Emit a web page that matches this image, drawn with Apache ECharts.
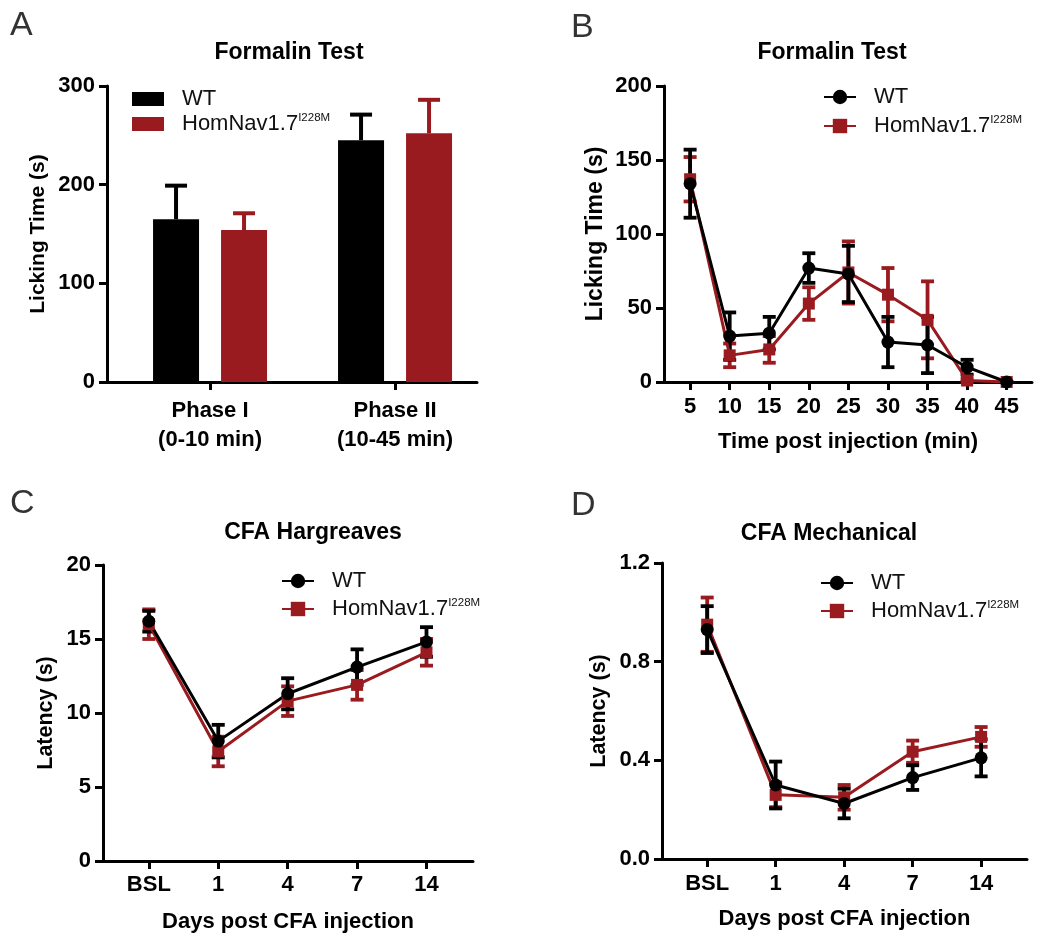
<!DOCTYPE html>
<html><head><meta charset="utf-8">
<script src="https://cdn.jsdelivr.net/npm/echarts@6/dist/echarts.min.js"></script>
<style>html,body{margin:0;padding:0;background:#fff}#c{width:1050px;height:946px}</style>
</head><body><div id="c"></div><script>
const FONT = '"Liberation Sans", Arial, Helvetica, sans-serif';
const RED = '#9A1B1F';
const BLACK = '#000000';

// ---- shared labels ----
const groupNames = ['WT', 'HomNav1.7'];
const groupSup = 'I228M';

// ---- Panel A: Formalin Test (bars, mean + SEM) ----
const phaseLabels = ['Phase I\n(0-10 min)', 'Phase II\n(10-45 min)'];
const phaseWT = [165, 245];
const phaseWTErr = [34, 26];
const phaseHom = [154, 252];
const phaseHomErr = [17, 34];

// ---- Panel B: Formalin time course ----
const minutes = [5, 10, 15, 20, 25, 30, 35, 40, 45];
const minWT = [134, 31, 33, 77, 73, 27, 25, 10, 0];
const minWTErr = [23, 16, 11, 10, 19, 17, 19, 5, 0];
const minHom = [137, 18, 22, 53, 74, 59, 42, 1, 0];
const minHomErr = [15, 8, 9, 11, 21, 18, 26, 1, 0];

// ---- Panel C: CFA Hargreaves ----
const days = ['BSL', '1', '4', '7', '14'];
const hargWT = [16.2, 8.1, 11.3, 13.1, 14.8];
const hargWTErr = [0.7, 1.1, 1.05, 1.2, 1.0];
const hargHom = [16.0, 7.4, 10.8, 11.9, 14.1];
const hargHomErr = [1.0, 1.0, 1.0, 1.0, 0.9];

// ---- Panel D: CFA Mechanical ----
const mechWT = [0.93, 0.30, 0.225, 0.33, 0.41];
const mechWTErr = [0.095, 0.095, 0.06, 0.05, 0.075];
const mechHom = [0.95, 0.26, 0.25, 0.435, 0.495];
const mechHomErr = [0.11, 0.05, 0.05, 0.045, 0.04];

// ---------------------------------------------------------
const BAR_W = 46, BAR_GAP = 22;
const barShift = (BAR_W + BAR_GAP) / 2;

function pts(xs, ys) { return ys.map((v, i) => [xs[i], v]); }
function errData(xs, ys, es) { return ys.map((v, i) => [xs[i], v - es[i], v + es[i]]); }
function upErrData(xs, ys, es) { return ys.map((v, i) => [xs[i], v, v + es[i]]); }
const idx = days.map((d, i) => i);
const phaseIdx = phaseLabels.map((d, i) => i);

function errRender(color, capW, lw, shift, lowerCap) {
  return function (params, api) {
    const x = api.value(0);
    const p1 = api.coord([x, api.value(1)]);
    const p2 = api.coord([x, api.value(2)]);
    const cx = p1[0] + shift;
    const st = { stroke: color, lineWidth: lw, fill: null };
    const ch = [
      { type: 'line', shape: { x1: cx, y1: p1[1], x2: cx, y2: p2[1] }, style: st },
      { type: 'line', shape: { x1: cx - capW / 2, y1: p2[1], x2: cx + capW / 2, y2: p2[1] }, style: st }
    ];
    if (lowerCap) ch.push({ type: 'line', shape: { x1: cx - capW / 2, y1: p1[1], x2: cx + capW / 2, y2: p1[1] }, style: st });
    return { type: 'group', children: ch };
  };
}

const axisLineStyle = { show: true, onZero: false, lineStyle: { color: '#000', width: 3 } };
const tickStyle = { length: 8, lineStyle: { color: '#000', width: 3 } };
const labelStyle = { fontFamily: FONT, fontSize: 22, fontWeight: 'bold', color: '#000' };
const nameStyle = { fontFamily: FONT, fontSize: 22, fontWeight: 'bold', color: '#000' };

function yAx(gi, min, max, interval, name, nameGap, fmt, nameSize) {
  return {
    gridIndex: gi, type: 'value', min: min, max: max, interval: interval,
    name: name, nameLocation: 'middle', nameGap: nameGap,
    nameTextStyle: Object.assign({}, nameStyle, { fontSize: nameSize || 22 }),
    axisLine: axisLineStyle, axisTick: Object.assign({ show: true }, tickStyle),
    axisLabel: Object.assign({ margin: 12, formatter: fmt }, labelStyle),
    splitLine: { show: false }
  };
}
function xAx(gi, min, max, vals, fmt, name, nameGap, margin, extra) {
  return {
    gridIndex: gi, type: 'value', min: min, max: max,
    name: name, nameLocation: 'middle', nameGap: nameGap, nameTextStyle: nameStyle,
    axisLine: axisLineStyle,
    axisTick: Object.assign({ show: true, customValues: vals }, tickStyle),
    axisLabel: Object.assign({ show: true, customValues: vals, margin: margin, formatter: fmt }, labelStyle, extra || {}),
    splitLine: { show: false }
  };
}

function legendFmt(name) {
  const g = name.split('|')[1];
  return g === groupNames[1] ? '{sp| }{m|' + g + '}{s|' + groupSup + '}' : '{sp| }{m|' + g + '}';
}
function legend(panel, left, top, gap, isBar) {
  const l = {
    orient: 'vertical', left: left, top: top, padding: 0, itemGap: gap,
    itemWidth: 32, itemHeight: isBar ? 14 : 18,
    data: groupNames.map(g => panel + '|' + g),
    formatter: legendFmt, selectedMode: false,
    textStyle: {
      fontFamily: FONT, fontSize: 22, color: '#111',
      rich: {
        sp: { width: 13, fontSize: 22, lineHeight: 24 },
        m: { fontFamily: FONT, fontSize: 22, lineHeight: 24, color: '#111' },
        s: { fontFamily: FONT, fontSize: 11.5, lineHeight: 11, verticalAlign: 'top', color: '#111' }
      }
    }
  };
  if (isBar) l.icon = 'rect';
  return l;
}

function lineSeries(panel, gi, g, data, color, symbol, size) {
  return {
    name: panel + '|' + g, type: 'line', xAxisIndex: gi, yAxisIndex: gi, data: data,
    symbol: symbol, symbolSize: size, clip: false,
    lineStyle: { color: color, width: 3 }, itemStyle: { color: color },
    emphasis: { disabled: true }, animation: false
  };
}
function errSeries(gi, data, color) {
  return {
    type: 'custom', xAxisIndex: gi, yAxisIndex: gi, data: data, clip: false,
    encode: { x: 0, y: [1, 2] },
    renderItem: errRender(color, 13, 3.8, 0, true), animation: false, silent: true
  };
}

const series = [
  // Panel A
  { name: 'A|' + groupNames[0], type: 'bar', xAxisIndex: 0, yAxisIndex: 0, data: pts(phaseIdx, phaseWT),
    barWidth: BAR_W, barGap: (BAR_GAP / BAR_W * 100) + '%', itemStyle: { color: BLACK }, animation: false },
  { name: 'A|' + groupNames[1], type: 'bar', xAxisIndex: 0, yAxisIndex: 0, data: pts(phaseIdx, phaseHom),
    barWidth: BAR_W, itemStyle: { color: RED }, animation: false },
  { type: 'custom', xAxisIndex: 0, yAxisIndex: 0, data: upErrData(phaseIdx, phaseWT, phaseWTErr), encode: { x: 0, y: [1, 2] },
    renderItem: errRender(BLACK, 22, 4, -barShift, false), animation: false, silent: true },
  { type: 'custom', xAxisIndex: 0, yAxisIndex: 0, data: upErrData(phaseIdx, phaseHom, phaseHomErr), encode: { x: 0, y: [1, 2] },
    renderItem: errRender(RED, 22, 4, barShift, false), animation: false, silent: true },
  // Panel B
  errSeries(1, errData(minutes, minHom, minHomErr), RED),
  lineSeries('B', 1, groupNames[1], pts(minutes, minHom), RED, 'rect', 12),
  errSeries(1, errData(minutes, minWT, minWTErr), BLACK),
  lineSeries('B', 1, groupNames[0], pts(minutes, minWT), BLACK, 'circle', 13),
  // Panel C
  errSeries(2, errData(idx, hargHom, hargHomErr), RED),
  lineSeries('C', 2, groupNames[1], pts(idx, hargHom), RED, 'rect', 12),
  errSeries(2, errData(idx, hargWT, hargWTErr), BLACK),
  lineSeries('C', 2, groupNames[0], pts(idx, hargWT), BLACK, 'circle', 13),
  // Panel D
  errSeries(3, errData(idx, mechHom, mechHomErr), RED),
  lineSeries('D', 3, groupNames[1], pts(idx, mechHom), RED, 'rect', 12),
  errSeries(3, errData(idx, mechWT, mechWTErr), BLACK),
  lineSeries('D', 3, groupNames[0], pts(idx, mechWT), BLACK, 'circle', 13)
];

const titleStyle = { fontFamily: FONT, fontSize: 23, fontWeight: 'bold', color: '#000' };
const letterStyle = { fontFamily: FONT, fontSize: 34, fontWeight: 'normal', color: '#333' };

const option = {
  backgroundColor: '#fff',
  animation: false,
  textStyle: { fontFamily: FONT },
  title: [
    { text: 'A', left: 10, top: 9, padding: 0, textStyle: letterStyle },
    { text: 'B', left: 571, top: 11, padding: 0, textStyle: letterStyle },
    { text: 'C', left: 10, top: 487, padding: 0, textStyle: letterStyle },
    { text: 'D', left: 571, top: 489, padding: 0, textStyle: letterStyle },
    { text: 'Formalin Test', left: 289, top: 41, textAlign: 'center', padding: 0, textStyle: titleStyle },
    { text: 'Formalin Test', left: 832, top: 41, textAlign: 'center', padding: 0, textStyle: titleStyle },
    { text: 'CFA Hargreaves', left: 313, top: 521, textAlign: 'center', padding: 0, textStyle: titleStyle },
    { text: 'CFA Mechanical', left: 829, top: 522, textAlign: 'center', padding: 0, textStyle: titleStyle }
  ],
  grid: [
    { left: 107, top: 86, width: 370, height: 296 },
    { left: 664, top: 86, width: 368, height: 296 },
    { left: 103, top: 565, width: 370, height: 296 },
    { left: 662, top: 563, width: 365, height: 296 }
  ],
  xAxis: [
    xAx(0, -0.557, 1.443, phaseIdx, v => phaseLabels[Math.round(v)], '', 0, 14, { lineHeight: 29 }),
    xAx(1, 1.7, 48.2, minutes, v => String(v), 'Time post injection (min)', 49, 14),
    xAx(2, -0.66, 4.67, idx, v => days[Math.round(v)], 'Days post CFA injection', 50, 13),
    xAx(3, -0.66, 4.67, idx, v => days[Math.round(v)], 'Days post CFA injection', 49, 14)
  ],
  yAxis: [
    yAx(0, 0, 300, 100, 'Licking Time (s)', 58, v => String(v), 21),
    yAx(1, 0, 200, 50, 'Licking Time (s)', 57, v => String(v), 23),
    yAx(2, 0, 20, 5, 'Latency (s)', 46, v => String(v), 21.5),
    yAx(3, 0, 1.2, 0.4, 'Latency (s)', 52, v => v.toFixed(1), 21.5)
  ],
  legend: [
    legend('A', 132, 88, 2, true),
    legend('B', 823, 86, 6, false),
    legend('C', 281, 570, 5, false),
    legend('D', 820, 572, 5, false)
  ],
  series: series
};

const chart = echarts.init(document.getElementById('c'), null, { renderer: 'canvas' });
chart.setOption(option);
</script></body></html>
